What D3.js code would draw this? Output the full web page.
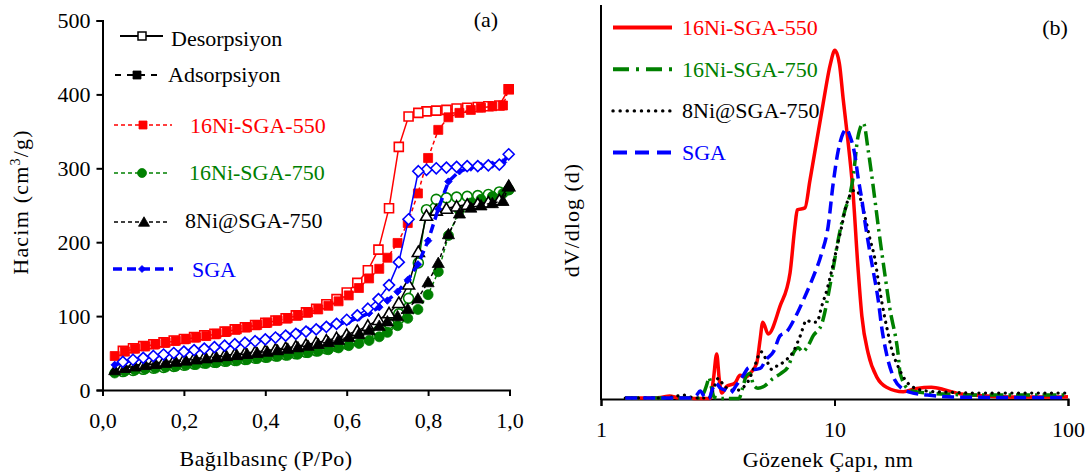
<!DOCTYPE html>
<html>
<head>
<meta charset="utf-8">
<script src="https://cdn.jsdelivr.net/npm/d3@7"></script>
<style>
  body { margin: 0; background: #fff; }
  text { font-family: "Liberation Serif", "Times New Roman", serif; }
</style>
</head>
<body>
<svg id="chart" width="1088" height="476"></svg>
<script>
// ---------- (a) N2 adsorption / desorption isotherms ----------
const pressureTicks = [0, 0.2, 0.4, 0.6, 0.8, 1.0];
const volumeTicks = [0, 100, 200, 300, 400, 500];

const pressureAds = [0.03,0.055,0.08,0.105,0.13,0.155,0.18,0.205,0.23,0.255,0.28,0.305,0.33,0.355,0.38,0.405,0.43,0.455,0.48,0.505,0.53,0.555,0.58,0.605,0.63,0.655,0.68,0.70,0.725,0.75,0.775,0.80,0.825,0.85,0.877,0.905,0.93,0.958,0.984,0.998];
const adsNi550 = [46,52,56,59,62,64,66.5,69,71,73,76,79,82,85,88,91,94,97,101,105,109,114,120,128,138,151,164,179,199,226,266,314,352,369,375,379,382,384,385,407];
const adsNi750 = [23,25.5,27,28.5,29.5,31,32,33.5,34.5,36,37,38.5,39.5,41,42.5,44,45.5,47,48.5,50.5,52.5,54.5,57,60,63,67,72,78,87,97,109,129,160,209,243,253,258,262,266,271];
const adsNi8 = [27,30,32,34,35.5,37,38.5,40,41.5,43,44.5,46,47.5,49,50.5,52,54,56,58,60,62.5,65,68,72,76,81,87,93,100,110,124,146,172,211,239,247,250,253,256,276];
const adsSGA = [34,38,41,43.5,46,48,50,52,54,56,58,60,62,64.5,67,69,72,74.5,77.5,80.5,83,86,89,93,98,104,112,121,133,149,170,202,245,282,296,301,303,305,308,318];

const pressureDes = [0.998,0.975,0.948,0.922,0.896,0.870,0.845,0.820,0.796,0.776,0.752,0.728,0.704,0.678,0.652,0.626,0.600,0.575,0.550,0.525,0.500,0.475,0.450,0.425,0.400,0.375,0.350,0.325,0.300,0.275,0.250,0.225,0.200,0.175,0.150,0.125,0.100,0.075,0.050];
const desNi550 = [407,385,384,383,382,381,379,378,377,375,370,329,246,190,162,145,132,123,116,110,105,101,97,94,91,88,85,82,79,76,74,71.5,69,67,64.5,62,59.5,56.5,53];
const desNi750 = [271,268,264.5,263,262,261,260,258,244,172,124,103,90,80,72,66,62,58.5,55.5,53,51,49,47.5,46,44.5,43,41.5,40,39,37.5,36.5,35,33.5,32,30.5,29.5,28,26.5,25];
const desNi8 = [276,257,254,252,251,248.5,245.5,243,236,187,143,118,104,95,87,80,75,70.5,67,64,61.5,59,57,55,53,51.5,50,48.5,47,45.5,44,42.5,41,39.5,38,36.5,35,33,31];
const desSGA = [319,305,304,303,303,302,301,300,298,296,231,173,142,123,110,101,95,89.5,85.5,82,79,76,73.5,71,68.5,66,64,62,60,58,56,54,52,50,48,46,43.5,41,38];

// ---------- (b) pore size distributions ----------
const poreTicks = [1, 10, 100];

const pore550 = [1.27,1.6,1.8,1.97,2.15,2.5,2.93,3.03,3.13,3.21,3.29,3.46,3.74,3.94,4.14,4.35,4.64,4.8,4.93,5.2,5.84,6.45,6.76,6.93,7.47,7.85,8.94,9.6,10.04,10.5,10.9,11.27,12.0,12.6,13.1,13.95,15.2,16.7,19.7,22.5,26,30,35,45,60,80,100];
const psd550 = [0.005,0.005,0.008,0.015,0.006,0.003,0.002,0.1,0.228,0.1,0.03,0.065,0.08,0.12,0.11,0.13,0.18,0.3,0.39,0.33,0.47,0.64,0.87,0.96,0.97,1.11,1.5,1.7,1.77,1.7,1.52,1.37,1.05,0.67,0.42,0.23,0.11,0.06,0.037,0.054,0.06,0.045,0.025,0.015,0.01,0.01,0.012];

const pore750 = [1.27,2.0,2.6,2.75,2.85,2.9,2.97,3.05,3.3,3.6,3.9,4.05,4.2,4.35,4.5,4.7,5.0,5.4,5.9,6.3,6.75,7.0,7.3,7.7,8.1,8.81,9.72,10.5,11.1,11.6,12.0,12.6,13.3,13.95,14.9,15.5,16.4,17.2,18.8,19.1,21.0,25,30,40,60,100];
const psd750 = [0.005,0.005,0.005,0.03,0.08,0.11,0.06,0.01,0.003,0.003,0.003,0.06,0.12,0.13,0.07,0.055,0.065,0.1,0.13,0.16,0.245,0.26,0.24,0.27,0.32,0.38,0.62,0.84,0.96,1.03,1.12,1.33,1.40,1.26,1.01,0.85,0.64,0.47,0.21,0.13,0.045,0.03,0.025,0.02,0.02,0.02];

const pore8Ni = [1.27,1.9,2.1,2.3,2.5,2.9,3.05,3.18,3.35,3.6,3.85,4.07,4.27,4.56,4.85,5.1,5.39,5.7,5.93,6.23,6.66,7.13,7.6,7.98,8.4,8.81,9.26,9.72,10.2,10.73,11.1,11.6,12.2,12.6,13.1,13.6,14.2,14.9,15.4,15.9,16.7,17.6,18.8,20.0,21.7,25,30,40,60,100];
const psd8Ni = [0.005,0.005,0.015,0.02,0.005,0.005,0.06,0.105,0.07,0.045,0.045,0.06,0.09,0.17,0.24,0.2,0.15,0.17,0.18,0.2,0.24,0.32,0.4,0.39,0.39,0.47,0.55,0.65,0.76,0.875,0.96,1.03,1.06,1.05,0.99,0.91,0.81,0.71,0.6,0.5,0.37,0.25,0.16,0.1,0.06,0.04,0.035,0.03,0.03,0.03];

const poreSGA = [1.27,2.4,2.55,2.66,2.78,2.9,3.0,3.1,3.25,3.4,3.57,3.8,4.07,4.3,4.56,4.8,5.1,5.48,5.84,6.23,6.76,7.34,7.98,8.81,9.39,9.86,10.37,10.89,11.27,11.6,12.26,12.6,13.1,13.6,14.2,14.7,15.4,15.9,16.7,17.9,19.4,21.7,25,32,50,100];
const psdSGA = [0.005,0.005,0.015,0.04,0.01,0.002,0.05,0.08,0.055,0.045,0.03,0.07,0.12,0.16,0.15,0.155,0.2,0.24,0.32,0.34,0.41,0.5,0.6,0.74,0.875,1.09,1.26,1.35,1.37,1.34,1.23,1.13,1.01,0.875,0.74,0.64,0.5,0.37,0.23,0.11,0.054,0.03,0.02,0.01,0.008,0.008];

// ---------- drawing ----------
const svg = d3.select("#chart");
svg.append("rect").attr("width", 1088).attr("height", 476).attr("fill", "#fff");

const RED = "#ff0000", GREEN = "#008000", BLACK = "#000000", BLUE = "#0000ff";
const FONT = 22;

function markerPath(type, s) {
  const h = s / 2;
  if (type === "square") return `M${-h},${-h}h${s}v${s}h${-s}Z`;
  if (type === "circle") return d3.symbol(d3.symbolCircle, Math.PI * h * h)();
  if (type === "triangle") return `M0,${-h * 1.05}L${h * 1.1},${h * 0.85}L${-h * 1.1},${h * 0.85}Z`;
  if (type === "diamond") return `M0,${-h}L${h},0L0,${h}L${-h},0Z`;
}

function styleAxis(g) {
  g.select(".domain").attr("stroke", "#000").attr("stroke-width", 2);
  g.selectAll(".tick line").attr("stroke", "#000").attr("stroke-width", 2);
  g.selectAll(".tick text").attr("font-size", FONT).attr("fill", "#000")
    .attr("font-family", '"Liberation Serif", serif');
}

// ===== Panel (a) =====
const xA = d3.scaleLinear().domain([0, 1]).range([102.5, 509.5]);
const yA = d3.scaleLinear().domain([0, 500]).range([390, 20.5]);

const gA = svg.append("g");

const axA = gA.append("g").attr("transform", "translate(0,390)")
  .call(d3.axisBottom(xA).tickValues(pressureTicks).tickSizeOuter(0).tickSize(6).tickPadding(22)
    .tickFormat(d => d3.format(".1f")(d).replace(".", ",")));
styleAxis(axA);
axA.selectAll(".tick text").attr("dy", "0").attr("y", 38);

const ayA = gA.append("g").attr("transform", "translate(102.5,0)")
  .call(d3.axisLeft(yA).tickValues(volumeTicks).tickSizeOuter(0).tickSize(6).tickPadding(6));
styleAxis(ayA);

// isotherm series, in drawing order
const isoLayers = [
  { vals: desNi550, p: pressureDes, color: RED, marker: "square", size: 9, open: true, dash: null, width: 1.5 },
  { vals: adsNi550, p: pressureAds, color: RED, marker: "square", size: 9, open: false, dash: "4,3", width: 1.5 },
  { vals: desNi750, p: pressureDes, color: GREEN, marker: "circle", size: 10, open: true, dash: null, width: 1.5 },
  { vals: adsNi750, p: pressureAds, color: GREEN, marker: "circle", size: 10, open: false, dash: "4,3", width: 1.5 },
  { vals: desNi8, p: pressureDes, color: BLACK, marker: "triangle", size: 11, open: true, dash: null, width: 1.5 },
  { vals: adsNi8, p: pressureAds, color: BLACK, marker: "triangle", size: 11, open: false, dash: "4,3", width: 1.5 },
  { vals: adsSGA, p: pressureAds, color: BLUE, marker: "diamond", size: 7.5, open: false, dash: "9,5", width: 3.5 },
  { vals: desSGA, p: pressureDes, color: BLUE, marker: "diamond", size: 11, open: true, dash: null, width: 1.5 }
];

const lineA = d3.line().x(d => xA(d[0])).y(d => yA(d[1]));
isoLayers.forEach(s => {
  const pts = s.p.map((p, i) => [p, s.vals[i]]);
  gA.append("path").datum(pts).attr("d", lineA).attr("fill", "none")
    .attr("stroke", s.color).attr("stroke-width", s.width)
    .attr("stroke-dasharray", s.dash);
  gA.append("g").selectAll("path").data(pts).join("path")
    .attr("transform", d => `translate(${xA(d[0])},${yA(d[1])})`)
    .attr("d", markerPath(s.marker, s.size))
    .attr("fill", s.open ? "#fff" : s.color)
    .attr("stroke", s.color).attr("stroke-width", s.open ? 1.6 : 0.8);
});

// legend (a)
const legA = gA.append("g");
const legAItems = [
  { label: "Desorpsiyon", color: BLACK, text: BLACK, marker: "square", size: 8, open: true, dash: null, width: 1.8, x1: 120, x2: 163, mx: 142, y: 36, tx: 171, ty: 46 },
  { label: "Adsorpsiyon", color: BLACK, text: BLACK, marker: "square", size: 8, open: false, dash: "6,6", width: 2, x1: 115, x2: 160, mx: 137, y: 75, tx: 168, ty: 82 },
  { label: "16Ni-SGA-550", color: RED, text: RED, marker: "square", size: 8, open: false, dash: "4,3", width: 1.5, x1: 114, x2: 172, mx: 143, y: 125, tx: 190, ty: 133 },
  { label: "16Ni-SGA-750", color: GREEN, text: GREEN, marker: "circle", size: 9, open: false, dash: "4,3", width: 1.5, x1: 114, x2: 170, mx: 142, y: 173, tx: 189, ty: 180 },
  { label: "8Ni@SGA-750", color: BLACK, text: BLACK, marker: "triangle", size: 10, open: false, dash: "4,3", width: 1.5, x1: 114, x2: 167, mx: 144, y: 222, tx: 185, ty: 227.5 },
  { label: "SGA", color: BLUE, text: BLUE, marker: "diamond", size: 7, open: false, dash: "9,5", width: 3.5, x1: 113, x2: 173, mx: 142, y: 269, tx: 192, ty: 277 }
];
legAItems.forEach(it => {
  legA.append("line").attr("x1", it.x1).attr("x2", it.x2).attr("y1", it.y).attr("y2", it.y)
    .attr("stroke", it.color).attr("stroke-width", it.width).attr("stroke-dasharray", it.dash);
  legA.append("path").attr("transform", `translate(${it.mx},${it.y})`)
    .attr("d", markerPath(it.marker, it.size))
    .attr("fill", it.open ? "#fff" : it.color).attr("stroke", it.color).attr("stroke-width", it.open ? 1.5 : 0.8);
  legA.append("text").attr("x", it.tx).attr("y", it.ty).attr("font-size", FONT)
    .attr("fill", it.text).text(it.label);
});

gA.append("text").attr("x", 486).attr("y", 27).attr("text-anchor", "middle")
  .attr("font-size", FONT).text("(a)");

gA.append("text").attr("x", 266).attr("y", 466).attr("text-anchor", "middle")
  .attr("font-size", FONT).attr("letter-spacing", 0.4).text("Bağılbasınç (P/Po)");

const yTitleA = gA.append("text").attr("transform", "translate(28,202) rotate(-90)")
  .attr("text-anchor", "middle").attr("font-size", FONT).attr("letter-spacing", 1.2);
yTitleA.append("tspan").text("Hacim (cm");
yTitleA.append("tspan").attr("font-size", 14).attr("dy", -8).text("3");
yTitleA.append("tspan").attr("dy", 8).text("/g)");

// ===== Panel (b) =====
const xB = d3.scaleLog().domain([1, 100]).range([601, 1068]);
const yB = d3.scaleLinear().domain([0, 2]).range([399, 5]);
const gB = svg.append("g");

const axB = gB.append("g").attr("transform", "translate(0,399)")
  .call(d3.axisBottom(xB).tickValues(poreTicks).tickSizeOuter(0).tickSize(7)
    .tickFormat(d3.format("d")));
styleAxis(axB);
axB.selectAll(".tick text").attr("dy", "0").attr("y", 38);

gB.append("line").attr("x1", 601).attr("x2", 601).attr("y1", 5).attr("y2", 400)
  .attr("stroke", "#000").attr("stroke-width", 2);

const psdSeries = [
  { d: pore550, v: psd550, color: RED, dash: null, cap: "butt", width: 3.5 },
  { d: pore750, v: psd750, color: GREEN, dash: "14,5,2.5,5", cap: "butt", width: 3.5 },
  { d: pore8Ni, v: psd8Ni, color: BLACK, dash: "0.1,6.5", cap: "round", width: 3.2 },
  { d: poreSGA, v: psdSGA, color: BLUE, dash: "12,6", cap: "butt", width: 3.5 }
];
const lineB = d3.line().x(d => xB(d[0])).y(d => yB(d[1])).curve(d3.curveMonotoneX);
psdSeries.forEach(s => {
  const pts = s.d.map((d, i) => [d, s.v[i]]);
  gB.append("path").datum(pts).attr("d", lineB).attr("fill", "none")
    .attr("stroke", s.color).attr("stroke-width", s.width)
    .attr("stroke-dasharray", s.dash).attr("stroke-linecap", s.cap)
    .attr("stroke-linejoin", "round");
});

// legend (b)
const legBItems = [
  { label: "16Ni-SGA-550", color: RED, dash: null, cap: "butt", width: 4 },
  { label: "16Ni-SGA-750", color: GREEN, dash: "16,7,3,7", cap: "butt", width: 4 },
  { label: "8Ni@SGA-750", color: BLACK, dash: "0.1,7", cap: "round", width: 3.4 },
  { label: "SGA", color: BLUE, dash: "14,8", cap: "butt", width: 4 }
];
legBItems.forEach((it, i) => {
  const base = 35 + i * 41.7;
  gB.append("line").attr("x1", 613).attr("x2", 672).attr("y1", base - 7.5).attr("y2", base - 7.5)
    .attr("stroke", it.color).attr("stroke-width", it.width)
    .attr("stroke-dasharray", it.dash).attr("stroke-linecap", it.cap);
  gB.append("text").attr("x", 682).attr("y", base).attr("font-size", FONT)
    .attr("fill", it.color).text(it.label);
});

gB.append("text").attr("x", 1055).attr("y", 35).attr("text-anchor", "middle")
  .attr("font-size", FONT).text("(b)");

gB.append("text").attr("x", 828).attr("y", 467).attr("text-anchor", "middle")
  .attr("font-size", FONT).attr("letter-spacing", 0.4).text("Gözenek Çapı, nm");

gB.append("text").attr("transform", "translate(579,220) rotate(-90)")
  .attr("text-anchor", "middle").attr("font-size", FONT).attr("letter-spacing", 1)
  .text("dV/dlog (d)");
</script>
</body>
</html>
